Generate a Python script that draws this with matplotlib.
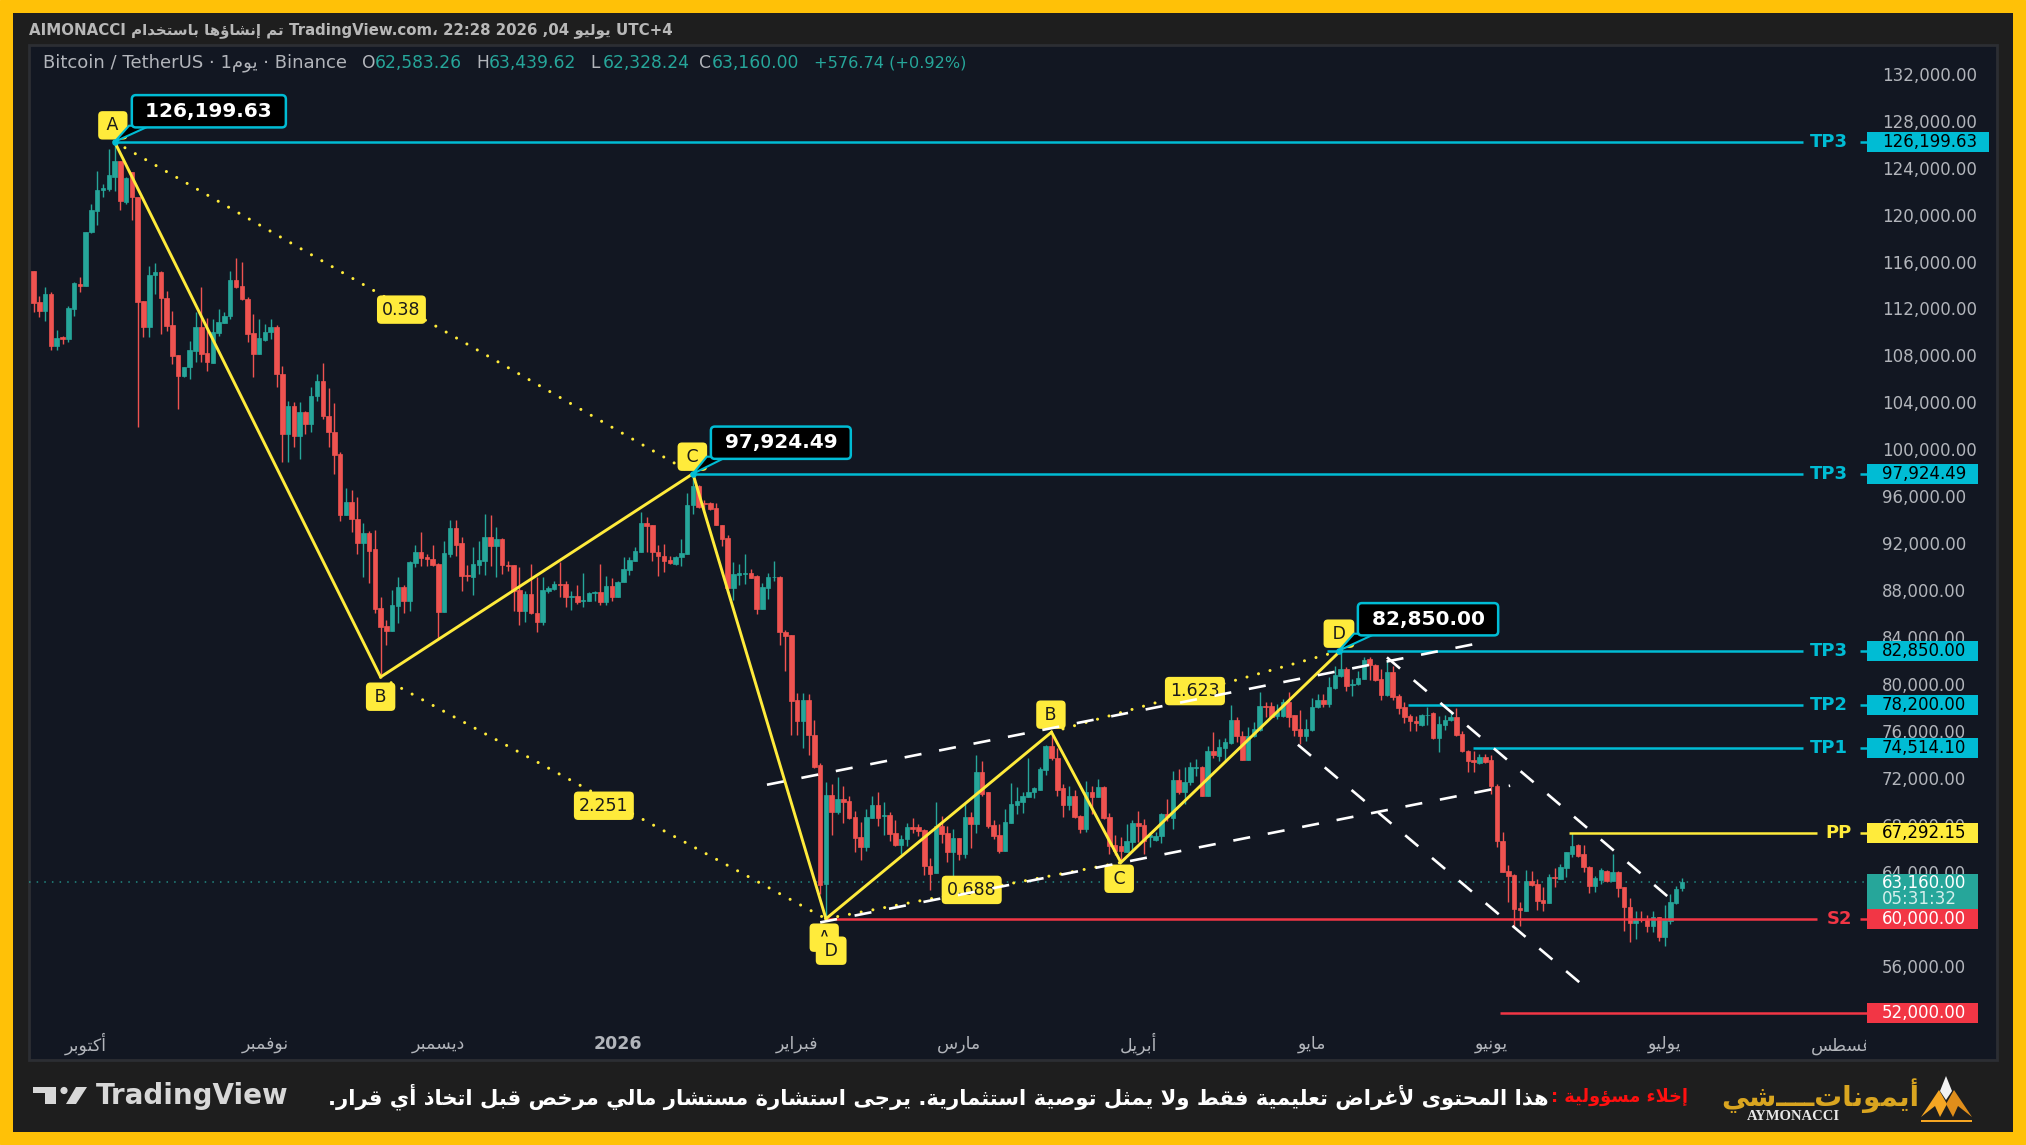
import unicodedata

import matplotlib
matplotlib.use('Agg')
import matplotlib.pyplot as plt
import numpy as np
from matplotlib.patches import Circle, FancyBboxPatch, Polygon, Rectangle
from matplotlib.transforms import Bbox, IdentityTransform, TransformedBbox

# daily candles, thousands of USDT
candle_dir = ("RRGRGRGGRG" "GGGGGRGRRR" "GGRRRRGGGR" "RGGGGRRRRG" "GGRRGRGRGG"
              "RRRRGRRGRR" "RRGGRGGRRR" "RGGRRRGGGR" "GRRRRGRRGG" "GRRGRGGGRG"
              "RGGGGGRRRR" "RGGGGRRRRR" "RGGGRRGGGR" "RRRGRRRGRG" "RRRRGGRGRR"
              "GGRRRRGRRG" "RGRGRRRRGG" "GGGGGGRRRG" "RRGRGRRRRG" "GRRGGGRGRG"
              "GGRGRGGGRR" "GGGRRGGRRR" "GGGRGGGRGG" "GRRRGRRRRR" "GGRGGGRRRR"
              "GRRRRRRRGR" "RRGRGGGRRR" "GGRGRRRGRR" "GRGGGG")
body_top = [115.16, 112.52, 113.23, 113.23, 109.48, 109.54, 112.04, 114.14, 114.08, 118.48,
            120.38, 122.10, 122.23, 123.37, 124.53, 124.53, 123.11, 123.60, 121.46, 112.60,
            114.85, 115.07, 115.07, 112.89, 110.59, 108.06, 107.04, 108.46, 110.39, 110.39,
            108.17, 109.96, 110.81, 111.38, 114.42, 114.42, 113.94, 112.80, 109.88, 109.48,
            110.02, 110.39, 110.39, 106.41, 103.71, 103.71, 103.20, 103.20, 104.57, 105.84,
            105.84, 102.86, 101.44, 99.60, 95.53, 95.53, 94.06, 92.89, 92.86, 91.47,
            86.47, 84.97, 86.73, 88.23, 88.23, 90.36, 91.27, 91.27, 90.79, 90.65,
            90.22, 91.16, 93.26, 93.26, 91.98, 89.29, 90.22, 90.56, 92.55, 92.55,
            92.35, 92.35, 90.16, 90.14, 88.01, 87.67, 87.67, 86.08, 88.01, 88.18,
            88.52, 88.52, 88.52, 87.50, 87.52, 87.18, 87.72, 87.81, 87.81, 88.32,
            88.32, 88.72, 89.80, 90.56, 91.36, 93.69, 93.69, 93.57, 91.22, 90.93,
            90.56, 90.85, 91.14, 95.26, 96.84, 96.84, 95.46, 95.46, 95.03, 93.53,
            92.44, 89.35, 89.44, 89.44, 89.44, 89.21, 88.26, 89.12, 89.15, 89.15,
            84.46, 84.17, 78.61, 78.61, 78.61, 75.67, 73.08, 70.55, 70.55, 70.20,
            70.20, 70.00, 68.70, 66.95, 68.68, 69.68, 69.68, 68.85, 68.82, 67.32,
            66.83, 67.84, 67.84, 67.84, 67.55, 64.50, 67.90, 67.90, 67.32, 66.89,
            66.89, 68.68, 68.68, 72.51, 72.51, 70.84, 67.98, 67.18, 68.24, 69.77,
            70.06, 70.43, 70.84, 71.12, 72.74, 74.75, 74.75, 73.74, 71.12, 70.43,
            70.43, 68.76, 70.78, 70.78, 71.21, 71.21, 68.68, 66.31, 66.23, 66.66,
            68.14, 68.14, 68.00, 67.18, 67.09, 68.94, 68.94, 71.83, 71.83, 71.63,
            72.91, 72.91, 72.97, 74.28, 74.28, 74.67, 75.10, 76.97, 76.97, 75.61,
            75.61, 76.18, 78.11, 78.11, 78.11, 77.60, 78.44, 78.44, 77.36, 76.17,
            76.17, 78.07, 78.64, 78.64, 79.72, 80.80, 81.28, 81.28, 80.00, 80.51,
            82.04, 82.13, 81.62, 80.43, 81.00, 81.00, 79.00, 78.01, 77.27, 76.88,
            77.36, 77.39, 77.50, 76.59, 76.96, 77.16, 77.16, 75.74, 74.32, 73.52,
            73.75, 73.75, 73.52, 71.28, 66.65, 64.04, 63.76, 60.92, 63.24, 63.24,
            62.96, 61.60, 63.58, 63.58, 64.38, 65.66, 66.23, 66.28, 65.52, 64.44,
            63.47, 64.15, 64.10, 63.95, 63.95, 62.68, 60.97, 59.98, 59.98, 59.98,
            60.18, 60.18, 59.92, 61.40, 62.53, 63.16]
body_bot = [112.43, 111.81, 111.81, 108.77, 108.77, 109.37, 109.39, 111.92, 113.91, 113.88,
            118.48, 120.33, 122.09, 122.15, 123.24, 121.18, 121.09, 121.46, 112.52, 110.39,
            110.39, 114.85, 112.86, 110.53, 107.97, 106.27, 106.27, 106.98, 108.34, 108.12,
            107.41, 107.35, 109.91, 110.76, 111.38, 113.80, 112.80, 109.82, 108.12, 108.12,
            109.34, 109.96, 106.41, 101.30, 101.30, 101.16, 101.16, 102.15, 102.15, 104.57,
            102.80, 101.44, 99.54, 94.43, 94.43, 94.03, 91.98, 91.98, 91.36, 86.39,
            84.88, 84.49, 84.49, 86.62, 87.10, 87.10, 90.28, 90.71, 90.65, 90.16,
            86.10, 86.10, 91.07, 91.87, 89.17, 89.17, 89.09, 90.16, 90.51, 91.78,
            91.78, 90.14, 90.08, 87.95, 86.19, 86.19, 86.02, 85.31, 85.31, 87.89,
            88.09, 88.46, 87.38, 87.38, 86.96, 87.10, 87.10, 87.75, 87.01, 87.01,
            87.44, 87.44, 88.66, 89.71, 90.51, 91.27, 93.46, 91.22, 90.88, 90.51,
            90.28, 90.22, 90.79, 91.08, 95.26, 95.11, 95.34, 94.91, 93.53, 92.38,
            88.20, 88.20, 89.27, 89.38, 89.07, 86.42, 86.42, 88.14, 89.09, 84.40,
            84.11, 78.55, 76.83, 76.83, 75.62, 72.94, 62.86, 62.94, 69.11, 69.11,
            69.91, 68.62, 66.89, 66.08, 66.08, 68.62, 68.62, 68.79, 67.26, 66.26,
            66.26, 66.80, 67.67, 67.47, 64.50, 63.81, 63.87, 67.26, 65.68, 65.68,
            65.54, 65.54, 68.10, 68.10, 70.63, 67.90, 67.03, 65.74, 65.74, 68.19,
            69.68, 69.97, 70.35, 70.78, 71.01, 72.65, 73.66, 71.01, 69.68, 69.68,
            68.70, 67.67, 67.67, 70.35, 70.35, 68.62, 66.23, 65.74, 65.74, 65.67,
            66.52, 67.94, 66.66, 66.95, 66.72, 67.09, 68.65, 68.60, 70.78, 70.78,
            71.63, 72.86, 70.50, 70.50, 73.99, 73.91, 74.56, 74.99, 75.61, 73.57,
            73.57, 75.61, 76.12, 78.02, 77.17, 77.31, 77.30, 77.16, 76.08, 75.60,
            75.60, 76.08, 78.01, 78.30, 78.30, 79.66, 80.71, 79.86, 79.89, 80.00,
            80.43, 81.62, 80.37, 79.06, 79.06, 78.92, 77.93, 77.22, 76.82, 76.68,
            76.54, 77.33, 75.37, 75.40, 76.54, 76.93, 75.65, 74.26, 73.47, 73.33,
            73.24, 73.33, 71.28, 66.60, 63.95, 63.67, 60.83, 60.75, 60.69, 62.90,
            61.54, 61.34, 61.34, 63.47, 63.39, 64.29, 65.52, 65.37, 64.38, 62.76,
            62.76, 63.33, 63.19, 63.19, 62.62, 60.97, 59.61, 59.64, 59.89, 59.41,
            59.41, 58.42, 58.42, 59.84, 61.31, 62.58]
highs = [115.22, 113.09, 113.85, 113.43, 110.16, 109.68, 112.23, 114.22, 114.65, 118.48,
         120.90, 123.74, 122.60, 125.58, 126.20, 124.59, 123.17, 123.60, 121.46, 112.66,
         115.64, 115.84, 115.16, 113.51, 111.81, 108.06, 107.04, 109.25, 111.67, 113.85,
         111.20, 111.10, 111.95, 111.67, 115.22, 116.27, 115.93, 112.94, 111.52, 111.10,
         110.67, 111.10, 110.61, 107.12, 104.14, 103.99, 103.99, 103.29, 105.28, 106.41,
         107.35, 105.22, 103.91, 99.74, 96.70, 96.53, 95.90, 93.69, 93.06, 93.12,
         87.44, 85.45, 88.04, 89.14, 88.43, 90.45, 91.87, 92.98, 91.07, 91.87,
         90.28, 92.21, 93.97, 93.97, 92.55, 90.14, 91.70, 92.15, 94.48, 94.40,
         93.35, 92.44, 90.51, 90.16, 89.94, 87.95, 90.22, 89.14, 89.14, 88.35,
         88.75, 90.36, 88.80, 87.95, 88.43, 89.43, 87.81, 87.95, 90.22, 89.23,
         89.00, 88.80, 90.79, 90.79, 91.64, 94.68, 94.26, 93.57, 91.87, 91.93,
         90.93, 90.94, 92.32, 96.27, 97.92, 96.99, 95.69, 95.55, 95.40, 93.53,
         92.72, 90.36, 90.22, 91.08, 89.84, 89.27, 88.63, 89.44, 90.45, 89.21,
         84.60, 84.17, 79.27, 79.27, 79.13, 76.91, 73.23, 71.64, 71.50, 72.07,
         71.30, 70.43, 69.19, 68.24, 69.34, 70.43, 70.84, 69.97, 69.11, 68.42,
         67.18, 68.19, 68.62, 68.04, 67.61, 65.16, 69.91, 68.76, 67.90, 67.61,
         66.89, 69.97, 69.11, 73.95, 73.43, 70.84, 68.42, 68.04, 69.34, 71.58,
         71.21, 70.78, 73.72, 71.21, 72.94, 74.81, 75.82, 74.52, 71.50, 71.30,
         71.01, 68.82, 71.70, 71.30, 71.93, 71.30, 69.05, 67.18, 66.98, 68.08,
         68.42, 69.22, 68.51, 67.37, 67.37, 68.99, 70.21, 72.63, 72.77, 72.97,
         73.34, 73.62, 73.05, 74.76, 75.89, 75.33, 75.41, 78.22, 77.17, 76.04,
         76.32, 76.75, 79.30, 78.45, 78.45, 78.31, 78.72, 79.29, 77.36, 77.78,
         77.02, 78.78, 79.15, 79.15, 80.62, 81.56, 82.85, 81.42, 80.43, 81.14,
         82.33, 82.27, 81.70, 81.28, 81.99, 81.56, 79.15, 78.44, 77.44, 77.30,
         77.44, 78.07, 77.59, 77.30, 77.39, 77.73, 77.96, 75.97, 74.38, 74.32,
         74.04, 74.04, 73.98, 71.48, 67.36, 64.61, 63.81, 61.40, 64.15, 64.10,
         63.39, 62.73, 63.81, 64.30, 64.66, 65.66, 67.29, 66.37, 66.31, 64.52,
         63.67, 64.32, 64.15, 65.52, 64.04, 62.68, 61.77, 60.69, 60.69, 60.35,
         60.69, 60.18, 61.20, 62.11, 62.82, 63.44]
lows = [111.67, 111.30, 110.90, 108.49, 108.49, 108.97, 109.11, 111.38, 113.37, 113.88,
        118.40, 119.14, 121.46, 122.03, 122.03, 120.41, 120.90, 119.53, 101.90, 109.54,
        109.54, 113.23, 109.82, 110.10, 107.26, 103.43, 106.18, 105.99, 107.41, 107.41,
        106.64, 107.35, 109.68, 110.73, 111.10, 113.74, 112.72, 109.11, 106.18, 108.12,
        109.25, 109.39, 105.28, 98.89, 98.89, 100.16, 99.17, 101.30, 101.44, 104.14,
        102.58, 100.16, 97.89, 93.91, 94.43, 92.92, 91.07, 89.14, 88.57, 86.02,
        80.51, 83.35, 84.49, 85.20, 86.02, 86.19, 89.94, 90.08, 90.08, 90.08,
        83.83, 86.10, 90.85, 90.93, 87.95, 88.80, 87.61, 89.37, 89.31, 90.08,
        89.14, 89.37, 89.60, 86.25, 85.05, 85.25, 85.96, 84.40, 85.05, 87.72,
        88.01, 87.44, 86.53, 86.33, 86.81, 86.53, 87.10, 87.04, 86.76, 86.76,
        87.04, 87.44, 88.66, 89.29, 90.45, 91.27, 91.22, 90.45, 89.23, 89.51,
        90.22, 90.13, 90.02, 91.08, 94.45, 94.97, 94.83, 94.83, 93.53, 91.74,
        88.12, 87.14, 88.40, 88.49, 89.07, 85.98, 86.42, 87.25, 88.78, 83.31,
        81.09, 75.62, 75.62, 74.52, 73.95, 72.85, 62.14, 60.00, 67.18, 68.91,
        68.19, 68.53, 65.65, 65.02, 65.74, 68.62, 67.90, 67.18, 66.60, 66.17,
        65.54, 66.17, 67.32, 67.03, 63.72, 62.43, 63.87, 66.46, 64.87, 62.94,
        65.02, 65.16, 66.03, 67.32, 70.49, 67.75, 66.80, 65.59, 65.74, 68.19,
        68.91, 69.05, 70.35, 70.26, 71.01, 72.22, 73.51, 70.43, 68.70, 69.28,
        68.62, 67.32, 67.38, 68.91, 70.35, 68.47, 65.54, 65.45, 64.87, 65.67,
        65.67, 66.52, 65.53, 66.15, 66.66, 66.44, 68.37, 67.66, 70.64, 69.79,
        71.44, 72.20, 70.50, 70.50, 73.71, 73.48, 73.34, 74.90, 75.04, 73.57,
        73.57, 75.47, 76.04, 77.17, 77.12, 77.03, 77.22, 76.36, 75.60, 74.89,
        75.17, 76.02, 77.96, 78.07, 78.07, 79.57, 80.62, 79.43, 79.01, 79.94,
        80.43, 80.34, 80.28, 78.64, 79.00, 78.64, 77.44, 76.65, 76.02, 75.97,
        76.45, 76.54, 75.31, 74.18, 76.08, 76.82, 75.60, 74.18, 72.47, 72.47,
        73.18, 73.24, 70.63, 66.08, 63.95, 61.40, 59.41, 59.41, 60.63, 62.82,
        60.74, 60.63, 61.34, 62.73, 63.39, 63.53, 65.23, 65.23, 63.95, 62.16,
        62.25, 62.96, 63.10, 63.19, 61.82, 58.98, 57.99, 58.27, 59.69, 58.84,
        58.84, 58.13, 57.71, 59.55, 61.26, 62.33]

# harmonic pattern pivots (candle index, thousands)
pattern1_x = [14, 60, 114, 137]
pattern1_y = [126.2, 80.6, 97.92, 60.0]
pattern2_x = [137, 176, 188, 226]
pattern2_y = [60.0, 75.9, 64.8, 82.85]

# channel lines (candle index, thousands)
channels = [([126.8, 250.6], [71.42, 83.55]),
            ([136.0, 255.3], [59.69, 71.34]),
            ([234.0, 284.4], [82.27, 61.12]),
            ([218.6, 269.6], [74.83, 53.62])]

price_ticks = list(range(56, 133, 4))
month_ticks = [9, 40, 70, 101, 132, 160, 191, 221, 252, 282, 313]
month_names = ['أكتوبر', 'نوفمبر', 'ديسمبر', '2026', 'فبراير', 'مارس', 'أبريل',
               'مايو', 'يونيو', 'يوليو', 'أغسطس']

CYAN = '#00bcd4'
YELLOW = '#ffeb3b'
RED = '#f23645'
TEAL = '#26a69a'
CANDLE_RED = '#ef5350'
GREY = '#b2b5bb'
PANE = '#121722'


# matplotlib does no arabic shaping, so join the letters by hand
FORMS = {}
for cp in range(0xFE70, 0xFEFF):
    parts = unicodedata.decomposition(chr(cp)).split()
    if len(parts) == 2 and parts[0] in ('<isolated>', '<final>', '<initial>', '<medial>'):
        FORMS.setdefault(chr(int(parts[1], 16)), {})[parts[0]] = chr(cp)
LAM_ALEF = {'ا': '\ufefb\ufefc', 'أ': '\ufef7\ufef8', 'إ': '\ufef9\ufefa', 'آ': '\ufef5\ufef6'}


def joins_next(c):
    return c in FORMS and '<initial>' in FORMS[c]


def joins_prev(c):
    return c in FORMS and '<final>' in FORMS[c]


def shape(text):
    out = []
    n = len(text)
    i = 0
    while i < n:
        c = text[i]
        prev = text[i - 1] if i else ' '
        nxt = text[i + 1] if i + 1 < n else ' '
        before = joins_next(prev) and joins_prev(c)
        if c == 'ل' and nxt in LAM_ALEF:
            out.append(LAM_ALEF[nxt][1 if before else 0])
            i += 2
            continue
        if c not in FORMS:
            out.append(c)
        else:
            after = joins_next(c) and joins_prev(nxt)
            tag = {(0, 0): '<isolated>', (1, 0): '<final>',
                   (0, 1): '<initial>', (1, 1): '<medial>'}[(int(before), int(after))]
            out.append(FORMS[c].get(tag, c))
        i += 1
    return ''.join(reversed(out))


plt.rcParams['font.family'] = ['DejaVu Sans']
fig = plt.figure(figsize=(20.26, 11.45), dpi=100, facecolor='white')

# frame, header and footer in pixel coordinates
fr = fig.add_axes([0, 0, 1, 1], zorder=0)
fr.set_xlim(0, 2026)
fr.set_ylim(1145, 0)
fr.axis('off')
fr.add_patch(FancyBboxPatch((9, 9), 2008, 1127, boxstyle='round,pad=0,rounding_size=0',
                            fc='#ffc107', ec='#ffc107', lw=18, joinstyle='round'))
fr.add_patch(Rectangle((13, 13), 2000, 1119, fc='#1e1e1e', ec='none'))
fr.add_patch(Rectangle((29, 45), 1968, 1015, fc=PANE, ec='#2c2e33', lw=2))

fr.text(29, 30, 'AIMONACCI ' + shape('تم إنشاؤها باستخدام') + ' TradingView.com، 22:28 2026 ,04 '
        + shape('يوليو') + ' UTC+4', color='#b8b8b8', size=10.8, weight='bold', va='center')

fr.text(43, 62.5, 'Bitcoin / TetherUS · 1' + shape('يوم') + ' · Binance', color=GREY, size=13, va='center')
legend_x = [362, 476, 590, 699]
legend_key = ['O', 'H', 'L', 'C']
legend_val = ['62,583.26', '63,439.62', '62,328.24', '63,160.00']
for lx, k, v in zip(legend_x, legend_key, legend_val):
    fr.text(lx, 62.5, k, color=GREY, size=12.3, va='center')
    fr.text(lx + 13, 62.5, v, color=TEAL, size=12.3, va='center')
fr.text(814, 62.5, '+576.74 (+0.92%)', color=TEAL, size=11.6, va='center')

# footer
fr.add_patch(Polygon([(33, 1087), (56, 1087), (56, 1104), (45, 1104), (45, 1093), (33, 1093)], fc='#d8d8d8', ec='none'))
fr.add_patch(Circle((64, 1090.5), 3.6, fc='#d8d8d8', ec='none'))
fr.add_patch(Polygon([(76, 1087), (87, 1087), (76, 1104), (66, 1104)], fc='#d8d8d8', ec='none'))
fr.text(96, 1096, 'TradingView', color='#d8d8d8', size=20, weight='bold', va='center')
fr.text(1549, 1097, shape('هذا المحتوى لأغراض تعليمية فقط ولا يمثل توصية استثمارية. يرجى استشارة مستشار مالي مرخص قبل اتخاذ أي قرار.'),
        color='white', size=15.2, weight='bold', ha='right', va='center')
fr.text(1688, 1097, shape('إخلاء مسؤولية :'), color='#ff1010', size=12.8, weight='bold', ha='right', va='center')

fr.text(1919, 1096, shape('أيموناتــــشي'), color='#d9a520', size=20, weight='bold', ha='right', va='center')
fr.text(1793, 1116, 'AYMONACCI', color='#e8e8e8', size=10.5, family='Liberation Serif', weight='bold', ha='center', va='center')
fr.add_patch(Polygon([(1921, 1117), (1939, 1090), (1947, 1104), (1940, 1117), (1935, 1106)], fc='#f5a623', ec='none'))
fr.add_patch(Polygon([(1972, 1117), (1954, 1090), (1946, 1104), (1953, 1117), (1958, 1106)], fc='#e08e1b', ec='none'))
fr.add_patch(Polygon([(1946, 1076), (1952, 1091), (1946, 1100), (1940, 1091)], fc='#f2f2f2', ec='none'))
fr.add_patch(Rectangle((1921, 1120), 51, 2, fc='#f5a623', ec='none'))

# price chart: x in candle index, y in USDT
ax = fig.add_axes([29 / 2026, 115 / 1145, 1838 / 2026, 985 / 1145], zorder=1)
ax.patch.set_alpha(0)
for s in ax.spines.values():
    s.set_visible(False)
ax.set_xlim(-0.795, 317.0)
ax.set_ylim(50524, 134446)

n_candles = len(candle_dir)
idx = np.arange(n_candles)
top = np.array(body_top) * 1000
bot = np.array(body_bot) * 1000
colors = [TEAL if d == 'G' else CANDLE_RED for d in candle_dir]
ax.vlines(idx, np.array(lows) * 1000, np.array(highs) * 1000, colors=colors, lw=1.0, zorder=2)
ax.bar(idx, top - bot, bottom=bot, width=0.78, color=colors, edgecolor=colors, lw=0.5, zorder=2.1)

ax.axhline(63160, color=TEAL, lw=1.1, ls=(0, (1, 4)), alpha=0.8, zorder=1.8)

# level lines
levels = [(14, 306, 126199.63, CYAN, 'TP3', 307.2),
          (114, 306, 97924.49, CYAN, 'TP3', 307.2),
          (223.6, 306, 82850.0, CYAN, 'TP3', 307.2),
          (237.7, 306, 78200.0, CYAN, 'TP2', 307.2),
          (248.8, 306, 74514.1, CYAN, 'TP1', 307.2),
          (265.5, 308.4, 67292.15, YELLOW, 'PP', 309.8),
          (137, 308.4, 60000.0, RED, 'S2', 310.1)]
for x0, x1, price, col, name, name_x in levels:
    ax.plot([x0, x1], [price, price], color=col, lw=1.8, zorder=3, solid_capstyle='butt')
    ax.plot([315.8, 317], [price, price], color=col, lw=1.8, zorder=3, solid_capstyle='butt')
    ax.text(name_x, price, name, color=col, size=13, weight='bold', va='center', zorder=3)
ax.plot([253.6, 317], [52000, 52000], color=RED, lw=1.8, zorder=3, solid_capstyle='butt')

# pattern legs and ratio lines
for xs, ys in [(pattern1_x, pattern1_y), (pattern2_x, pattern2_y)]:
    ys = np.array(ys) * 1000
    ax.plot(xs, ys, color=YELLOW, lw=2.1, zorder=3.2, solid_joinstyle='miter')
    for a, b in [(0, 2), (1, 3)]:
        ax.plot([xs[a], xs[b]], [ys[a], ys[b]], color=YELLOW, lw=2.2, zorder=3.1,
                ls=(0, (0.01, 3.9)), dash_capstyle='round')

ratio_box = dict(boxstyle='round,pad=0.3,rounding_size=0.25', fc=YELLOW, ec='none')
ratio_labels = [(63.6, 111.9, '0.38'), (98.6, 69.63, '2.251'), (162.2, 62.46, '0.688'), (200.8, 79.4, '1.623')]
for lx, ly, txt in ratio_labels:
    ax.text(lx, ly * 1000, txt, color='#1a1a1a', size=12.5, ha='center', va='center', bbox=ratio_box, zorder=4)

point_labels = [(13.7, 127.6, 'A'), (60, 78.92, 'B'), (113.9, 99.37, 'C'), (136.7, 58.39, 'A'),
                (137.9, 57.28, 'D'), (175.9, 77.39, 'B'), (187.7, 63.41, 'C'), (225.7, 84.29, 'D')]
for lx, ly, txt in point_labels:
    ax.text(lx, ly * 1000, '\u2009' + txt + '\u2009', color='#1a1a1a', size=12.5, ha='center', va='center',
            bbox=ratio_box, zorder=4)

for xs, ys in channels:
    ax.plot(xs, np.array(ys) * 1000, color='white', lw=1.9, ls=(0, (6.5, 6.8)), zorder=5, dash_capstyle='butt')

# price callouts
callouts = [(30.3, 128.8, '126,199.63', [(16.5, 127.57), (14, 126.2), (20.1, 127.57)]),
            (129.2, 100.56, '97,924.49', [(116.4, 99.37), (114, 97.92), (119.9, 99.37)]),
            (241.1, 85.52, '82,850.00', [(228.3, 84.29), (225.7, 82.85), (232, 84.29)])]
for cx, cy, txt, tail in callouts:
    ax.add_patch(Polygon([(a, b * 1000) for a, b in tail], fc='black', ec=CYAN, lw=1.5, zorder=4.4))
    ax.scatter([tail[1][0]], [tail[1][1] * 1000], s=14, color=CYAN, zorder=4.6)
    ax.text(cx, cy * 1000, ' ' + txt + ' ', color='white', size=14.5, weight='bold', ha='center', va='center', zorder=4.5,
            bbox=dict(boxstyle='round,pad=0.33,rounding_size=0.2', fc='black', ec=CYAN, lw=1.8))

# price scale
ax.yaxis.tick_right()
ax.set_yticks([p * 1000 for p in price_ticks])
ax.set_yticklabels([f'{p * 1000:,.2f}' for p in price_ticks])
ax.tick_params(axis='y', length=0, pad=10.8, labelsize=12, labelcolor=GREY)

clip_right = TransformedBbox(Bbox([[0, 0], [1866, 1145]]), IdentityTransform())
ax.set_xticks(month_ticks)
ax.set_xticklabels([m if m.isdigit() else shape(m) for m in month_names])
ax.tick_params(axis='x', length=0, pad=10, labelsize=12.5, labelcolor=GREY)
for lab, m in zip(ax.get_xticklabels(), month_names):
    lab.set_va('center')
    lab.set_clip_box(clip_right)
    lab.set_clip_on(True)
    if m == '2026':
        lab.set_fontweight('bold')

# price badges over the scale
trans = ax.get_yaxis_transform()
px = 1 / 1838
badges = [(126199.63, '126,199.63', CYAN, 'black', 122),
          (97924.49, '97,924.49', CYAN, 'black', 111),
          (82850.0, '82,850.00', CYAN, 'black', 111),
          (78200.0, '78,200.00', CYAN, 'black', 111),
          (74514.1, '74,514.10', CYAN, 'black', 111),
          (67292.15, '67,292.15', YELLOW, 'black', 111),
          (60000.0, '60,000.00', RED, 'white', 111),
          (52000.0, '52,000.00', RED, 'white', 111)]
ax.add_patch(Rectangle((1, 60690), 111 * px, 3150, transform=trans, fc=TEAL, ec='none', clip_on=False, zorder=6))
ax.text(1 + 15 * px, 63070, '63,160.00', transform=trans, color='white', size=12, va='center', zorder=7, clip_on=False)
ax.text(1 + 15 * px, 61710, '05:31:32', transform=trans, color='#d5efec', size=12, va='center', zorder=7, clip_on=False)
for price, txt, bg, fg, w in badges:
    ax.add_patch(Rectangle((1, price - 852), w * px, 1704, transform=trans, fc=bg, ec='none', clip_on=False, zorder=6))
    ax.text(1 + 15 * px, price, txt, transform=trans, color=fg, size=12, va='center', zorder=7, clip_on=False)

fig.savefig('out.png', dpi=100, facecolor=fig.get_facecolor())
